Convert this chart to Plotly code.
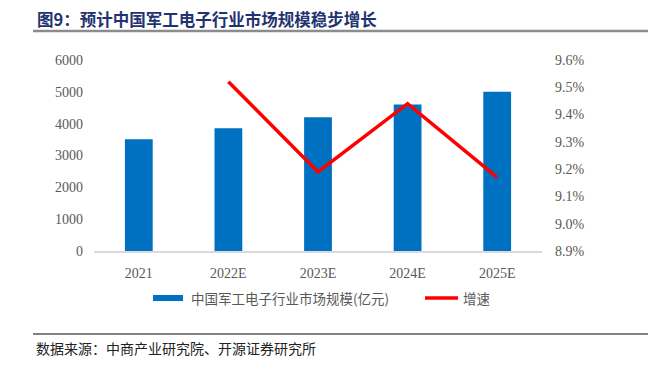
import plotly.graph_objects as go

categories = ["2021", "2022E", "2023E", "2024E", "2025E"]
market_size = [3510, 3855, 4200, 4605, 5005]
growth_cats = ["2022E", "2023E", "2024E", "2025E"]
growth_rate = [9.52, 9.19, 9.44, 9.17]
y2_ticks = [8.9, 9.0, 9.1, 9.2, 9.3, 9.4, 9.5, 9.6]
y2_labels = [f"{v:.1f}%" for v in y2_ticks]

OFF = 8  # page body margin
W, H = 659 - OFF, 365 - OFF
L, R, T, B = 94 - OFF, 542 - OFF, 60 - OFF, 251 - OFF

def px(x):
    return (x - OFF - L) / (R - L)

def py(y):
    return (B - (y - OFF)) / (B - T)

fig = go.Figure()
fig.add_trace(go.Bar(x=categories, y=market_size, marker=dict(color="#0070C0", line=dict(width=0)),
                     name="中国军工电子行业市场规模(亿元)", yaxis="y"))
fig.add_trace(go.Scatter(x=growth_cats, y=growth_rate, mode="lines", line=dict(color="#FF0000", width=3.5),
                         name="增速", yaxis="y2"))

tickfont = dict(family="Liberation Serif", size=14, color="#595959")
fig.update_layout(
    width=W, height=H,
    margin=dict(l=L, r=W - R, t=T, b=H - B, pad=0),
    paper_bgcolor="white", plot_bgcolor="white",
    showlegend=False,
    bargap=0.69,
    xaxis=dict(type="category", showline=True, linecolor="#D9D9D9", linewidth=1.5, ticks="",
               tickfont=tickfont, showgrid=False, ticklabelstandoff=8),
    yaxis=dict(range=[0, 6000], tickvals=[0, 1000, 2000, 3000, 4000, 5000, 6000], showgrid=False,
               zeroline=False, tickfont=tickfont, ticklabelstandoff=10),
    yaxis2=dict(range=[8.9, 9.6], overlaying="y", side="right", tickvals=y2_ticks, ticktext=y2_labels,
                showgrid=False, zeroline=False, tickfont=tickfont, ticklabelstandoff=12),
)

shapes = [
    dict(type="line", xref="paper", yref="paper", x0=px(33), x1=px(648), y0=py(31), y1=py(31),
         line=dict(color="#8C8C8C", width=2.5)),
    dict(type="line", xref="paper", yref="paper", x0=px(33), x1=px(648), y0=py(334), y1=py(334),
         line=dict(color="#595959", width=1.5)),
    dict(type="rect", xref="paper", yref="paper", x0=px(153), x1=px(183), y0=py(301), y1=py(295),
         fillcolor="#0070C0", line=dict(width=0)),
    dict(type="line", xref="paper", yref="paper", x0=px(425), x1=px(458), y0=py(298), y1=py(298),
         line=dict(color="#FF0000", width=3.5)),
]
fig.update_layout(shapes=shapes)

cjk = "Noto Sans CJK SC"
annotations = [
    dict(text="<b>图9：预计中国军工电子行业市场规模稳步增长</b>", xref="paper", yref="paper",
         x=px(35), y=py(19.5), xanchor="left", yanchor="middle", showarrow=False,
         font=dict(family=cjk, size=16.5, color="#1F3370")),
    dict(text="数据来源：中商产业研究院、开源证券研究所", xref="paper", yref="paper",
         x=px(34), y=py(348), xanchor="left", yanchor="middle", showarrow=False,
         font=dict(family=cjk, size=14, color="#222222")),
    dict(text="中国军工电子行业市场规模(亿元)", xref="paper", yref="paper",
         x=px(189), y=py(298), xanchor="left", yanchor="middle", showarrow=False,
         font=dict(family=cjk, size=13.5, color="#595959")),
    dict(text="增速", xref="paper", yref="paper",
         x=px(461), y=py(298), xanchor="left", yanchor="middle", showarrow=False,
         font=dict(family=cjk, size=13.5, color="#595959")),
]
fig.update_layout(annotations=annotations)

fig.write_html("out.html")
